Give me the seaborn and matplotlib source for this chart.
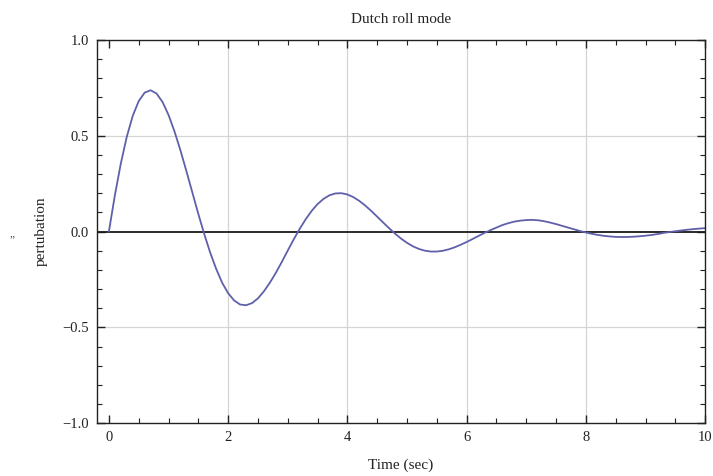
import numpy as np
import pandas as pd
import matplotlib
matplotlib.use("Agg")
import matplotlib.pyplot as plt
import seaborn as sns
from matplotlib.ticker import MultipleLocator

# ---- data (time step 0.1 s) ----
time_sec = [round(0.1 * k, 1) for k in range(101)]
perturbation = [
    0.0000, 0.1888, 0.3553, 0.4949, 0.6040, 0.6810, 0.7252, 0.7377, 0.7203, 0.6761,
    0.6089, 0.5230, 0.4239, 0.3155, 0.2036, 0.0920, -0.0137, -0.1109, -0.1953, -0.2674,
    -0.3218, -0.3595, -0.3806, -0.3845, -0.3735, -0.3485, -0.3118, -0.2667, -0.2154, -0.1584,
    -0.0988, -0.0406, 0.0142, 0.0641, 0.1077, 0.1435, 0.1708, 0.1896, 0.1992, 0.2003,
    0.1936, 0.1797, 0.1600, 0.1356, 0.1077, 0.0776, 0.0472, 0.0173, -0.0111, -0.0367,
    -0.0587, -0.0771, -0.0908, -0.0998, -0.1043, -0.1042, -0.1002, -0.0926, -0.0820, -0.0689,
    -0.0544, -0.0388, -0.0226, -0.0070, 0.0076, 0.0208, 0.0340, 0.0440, 0.0520, 0.0570,
    0.0600, 0.0610, 0.0590, 0.0540, 0.0470, 0.0390, 0.0300, 0.0210, 0.0120, 0.0030,
    -0.0049, -0.0117, -0.0175, -0.0222, -0.0255, -0.0277, -0.0285, -0.0282, -0.0268, -0.0245,
    -0.0215, -0.0178, -0.0130, -0.0070, -0.0025, 0.0018, 0.0058, 0.0095, 0.0128, 0.0155,
    0.0180,
]
x_ticks = [0, 2, 4, 6, 8, 10]
y_ticks = [-1.0, -0.5, 0.0, 0.5, 1.0]
y_tick_labels = ["\u22121.0", "\u22120.5", "0.0", "0.5", "1.0"]
title = "Dutch roll mode"
x_label = "Time (sec)"
y_label = "pertubation"

df = pd.DataFrame({"t": time_sec, "y": perturbation})

sns.set_style("white")
plt.rcParams["font.family"] = ["Liberation Serif", "DejaVu Serif"]

fig = plt.figure(figsize=(7.13, 4.76), dpi=100)
ax = fig.add_axes([0.136, 0.111, 0.853, 0.805])

# grid lines (light gray)
for gx in [2, 4, 6, 8]:
    ax.axvline(gx, color="#d4d4d4", lw=0.9, zorder=0)
for gy in [-0.5, 0.5]:
    ax.axhline(gy, color="#d4d4d4", lw=0.9, zorder=0)
ax.axhline(0, color="#1a1a1a", lw=1.3, zorder=1)

sns.lineplot(data=df, x="t", y="y", ax=ax, color="#6060aa", linewidth=1.3, zorder=2)

ax.set_xlim(-0.2, 10.0)
ax.set_ylim(-1.0, 1.0)
ax.set_xticks(x_ticks)
ax.set_xticklabels([str(v) for v in x_ticks])
ax.set_yticks(y_ticks)
ax.set_yticklabels(y_tick_labels)
ax.xaxis.set_minor_locator(MultipleLocator(0.5))
ax.yaxis.set_minor_locator(MultipleLocator(0.1))
ax.tick_params(which="both", direction="in", top=True, right=True,
               bottom=True, left=True,
               colors="#222222", labelcolor="#222222")
ax.tick_params(which="major", length=6, width=1.0, labelsize=10.5, pad=6)
ax.tick_params(which="minor", length=3.5, width=0.8)
for s in ax.spines.values():
    s.set_color("#222222")
    s.set_linewidth(1.0)
    s.set_visible(True)

ax.set_title(title, fontsize=11, pad=12, color="#222222")
ax.set_xlabel(x_label, fontsize=11, labelpad=10, color="#222222")
ax.set_ylabel(y_label, fontsize=11, labelpad=10, color="#222222")
fig.text(12 / 713, 1 - 240 / 476, "\u201d", fontsize=8, color="#444444",
         ha="center", va="center")

fig.savefig("out.png", dpi=100)
